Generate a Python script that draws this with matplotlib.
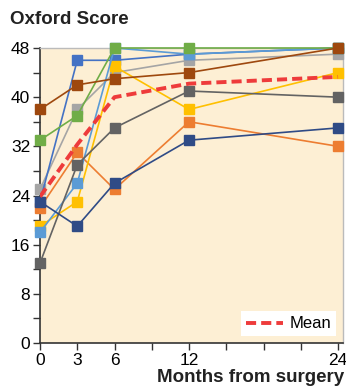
import matplotlib.pyplot as plt
from matplotlib.ticker import MultipleLocator, FixedLocator

plt.rcParams['font.family'] = ['Liberation Sans', 'DejaVu Sans']

# data
months = [0, 3, 6, 12, 24]

patients = {
    '#A5A5A5': [25, 38, 44, 46, 47],
    '#4472C4': [23, 46, 46, 47, 48],
    '#ED7D31': [22, 31, 25, 36, 32],
    '#FFC000': [19, 23, 45, 38, 44],
    '#5B9BD5': [18, 26, 48, 47, 48],
    '#636363': [13, 29, 35, 41, 40],
    '#2F4B86': [23, 19, 26, 33, 35],
    '#70AD47': [33, 37, 48, 48, 48],
    '#9E480E': [38, 42, 43, 44, 48],
}
mean_score = [23.8, 32.3, 40.0, 42.2, 43.3]

fig = plt.figure(figsize=(3.46, 3.88), dpi=100)
ax = fig.add_axes([40 / 346, 45 / 388, 303 / 346, 295 / 388])
ax.set_facecolor('#FDEFD4')

for color, vals in patients.items():
    ax.plot(months, vals, color=color, lw=1.2, marker='s', ms=7.5,
            mec=color, mfc=color, clip_on=False, zorder=3)

ax.plot(months, mean_score, color='#EE3B3B', lw=2.8, ls=(0, (2.6, 1.3)),
        label='Mean', zorder=4)

ax.set_xlim(0, 24.4)
ax.set_ylim(0, 48)
ax.set_xticks([0, 3, 6, 12, 24])
ax.xaxis.set_minor_locator(FixedLocator([9, 15, 18, 21]))
ax.yaxis.set_major_locator(MultipleLocator(8))
ax.yaxis.set_minor_locator(MultipleLocator(4))
ax.tick_params(axis='both', which='major', labelsize=12.5, length=5, width=1,
               color='#333333', pad=2)
ax.tick_params(axis='both', which='minor', length=5, width=1, color='#333333')

for s in ['left', 'bottom']:
    ax.spines[s].set_color('#333333')
    ax.spines[s].set_linewidth(1.2)
for s in ['top', 'right']:
    ax.spines[s].set_color('#BBBBBB')
    ax.spines[s].set_linewidth(1.0)

fig.text(10 / 346, 1 - 20 / 388, 'Oxford Score', fontsize=13.5, fontweight='bold',
         va='center', ha='left', color='#222222')
fig.text(344 / 346, 1 - 377 / 388, 'Months from surgery', fontsize=13.5,
         fontweight='bold', va='center', ha='right', color='#222222')

leg = ax.legend(loc='lower right', fontsize=12, frameon=True, fancybox=False,
                handlelength=2.2, borderpad=0.3, handletextpad=0.4,
                borderaxespad=0.4)
leg.get_frame().set_edgecolor('none')
leg.get_frame().set_facecolor('white')
leg.get_frame().set_alpha(1)

fig.savefig('out.png', dpi=100)
